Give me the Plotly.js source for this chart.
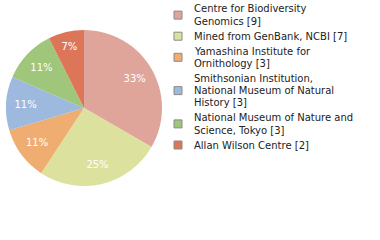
<!DOCTYPE html>
<html>
<head>
<meta charset="utf-8">
<script src="https://cdn.plot.ly/plotly-3.0.1.min.js"></script>
<style>
  html, body { margin: 0; padding: 0; background: #fff; }
  #chart { width: 380px; height: 240px; }
</style>
</head>
<body>
<div id="chart"></div>
<script>
// Specimen counts by depositing institution
const institutions = [
  'Centre for Biodiversity<br>Genomics',
  'Mined from GenBank, NCBI',
  'Yamashina Institute for<br>Ornithology',
  'Smithsonian Institution,<br>National Museum of Natural<br>History',
  'National Museum of Nature and<br>Science, Tokyo',
  'Allan Wilson Centre'
];
const counts = [9, 7, 3, 3, 3, 2];
const sliceColors = ['#dfa59b', '#dde19e', '#efad72', '#9dbade', '#9fc67a', '#dd7658'];

const W = 380, H = 240;
const total = counts.reduce((a, b) => a + b, 0);
// percentages are shown truncated to whole numbers
const pctLabels = counts.map(c => Math.floor(c / total * 100) + '%');
const legendNames = institutions.map((n, i) => n + ' [' + counts[i] + ']');

const pieDomain = { x: [6 / W, 162 / W], y: [1 - 186 / H, 1 - 30 / H] };

// filled slices
const pie = {
  type: 'pie',
  values: counts,
  labels: legendNames,
  textinfo: 'none',
  marker: { colors: sliceColors, line: { width: 0 } },
  sort: false,
  direction: 'clockwise',
  rotation: 0,
  hoverinfo: 'none',
  showlegend: false,
  domain: pieDomain
};

// transparent ring on top carrying the percentage labels at three quarters of the radius
const labelRing = {
  type: 'pie',
  values: counts,
  labels: legendNames,
  text: pctLabels,
  textinfo: 'text',
  textposition: 'inside',
  insidetextorientation: 'horizontal',
  textfont: { family: 'DejaVu Sans', size: 10, color: '#ffffff' },
  hole: 0.5,
  marker: { colors: counts.map(() => 'rgba(0,0,0,0)'), line: { width: 0 } },
  sort: false,
  direction: 'clockwise',
  rotation: 0,
  hoverinfo: 'none',
  showlegend: false,
  domain: pieDomain
};

// legend: colour swatch plus wrapped institution name
const annotations = [];
const shapes = [];
const textX = 192, boxX0 = 174, boxSize = 8;
const lineStep = 12.2, itemGap = 15;
let y = 9;
legendNames.forEach((name, i) => {
  const lines = name.split('<br>');
  const firstY = y;
  lines.forEach((ln, k) => {
    annotations.push({
      xref: 'paper', yref: 'paper',
      x: textX / W, y: 1 - y / H,
      xanchor: 'left', yanchor: 'middle',
      text: ln, showarrow: false,
      font: { family: 'DejaVu Sans', size: 10, color: '#222222' }
    });
    if (k < lines.length - 1) y += lineStep;
  });
  const midY = (firstY + y) / 2;
  shapes.push({
    type: 'rect', xref: 'paper', yref: 'paper',
    x0: boxX0 / W, x1: (boxX0 + boxSize) / W,
    y0: 1 - (midY - boxSize / 2) / H, y1: 1 - (midY + boxSize / 2) / H,
    fillcolor: sliceColors[i],
    line: { color: '#8a8a8a', width: 1 }
  });
  y += itemGap;
});

const layout = {
  width: W,
  height: H,
  margin: { l: 0, r: 0, t: 0, b: 0 },
  paper_bgcolor: '#ffffff',
  showlegend: false,
  annotations: annotations,
  shapes: shapes
};

Plotly.newPlot('chart', [pie, labelRing], layout, { staticPlot: true });
</script>
</body>
</html>
